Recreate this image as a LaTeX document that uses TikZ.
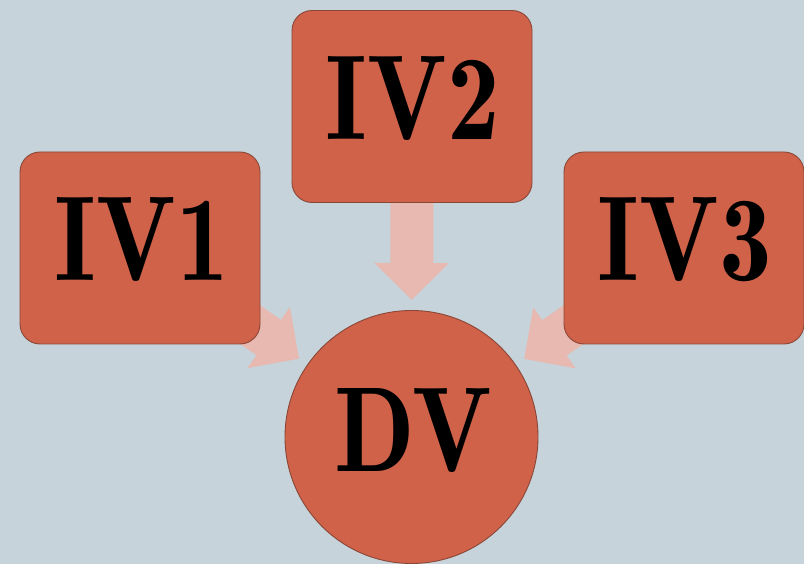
\documentclass[tikz,border=0pt]{standalone}
\usepackage{fontspec}
\usepackage{graphicx}
\usetikzlibrary{arrows.meta,calc}
\pgfdeclarelayer{background}
\pgfsetlayers{background,main}

% heavy, non-extended serif face for the variable names
\newfontfamily\labelfont{lmromandemi10-regular.otf}

\definecolor{bgblue}{HTML}{C6D3DA}
\definecolor{boxfill}{HTML}{D0624A}
\definecolor{boxline}{HTML}{8A4636}
\definecolor{arrowpink}{HTML}{E8B9B0}

% narrow the heavy face a little
\newcommand{\varname}[1]{\scalebox{0.87}[1]{#1}}

\tikzset{
  varbox/.style={draw=boxline, line width=0.9pt, fill=boxfill,
    rounded corners=20pt, minimum width=240pt, minimum height=192pt,
    inner sep=0pt},
  dvcircle/.style={draw=boxline, line width=0.9pt, fill=boxfill,
    circle, minimum size=253pt, inner sep=0pt},
  varlabel/.style={anchor=base, inner sep=0pt,
    font=\labelfont\fontsize{121}{121}\selectfont},
  blockarrow/.style={arrowpink, line width=43pt,
    -{Triangle[length=37pt, width=72pt]}},
}

\begin{document}
\begin{tikzpicture}[x=1pt, y=1pt]
  \useasboundingbox (0,0) rectangle (804,564);

  % boxes and the target circle
  \node[varbox]   (iv1) at (140,316)   {};
  \node[varbox]   (iv2) at (412,457.5) {};
  \node[varbox]   (iv3) at (684,316)   {};
  \node[dvcircle] (dv)  at (411.5,127) {};

  % labels
  \node[varlabel] (l1) at (142,283) {\varname{IV1}};
  \node[varlabel] (l2) at (413,424) {\varname{IV2}};
  \node[varlabel] (l3) at (685,283) {\varname{IV3}};
  \node[varlabel] (l4) at (413,92)  {\varname{DV}};

  % arrow tips stop short of the circle
  \coordinate (t1) at ($(dv.center)!137pt!(iv1.center)$);
  \coordinate (t2) at ($(dv.center)!137pt!(iv2.center)$);
  \coordinate (t3) at ($(dv.center)!137pt!(iv3.center)$);

  \begin{pgfonlayer}{background}
    \fill[bgblue] (0,0) rectangle (804,564);
    \draw[blockarrow] (iv1.center) -- (t1);
    \draw[blockarrow] (iv2.center) -- (t2);
    \draw[blockarrow] (iv3.center) -- (t3);
  \end{pgfonlayer}
\end{tikzpicture}
\end{document}
